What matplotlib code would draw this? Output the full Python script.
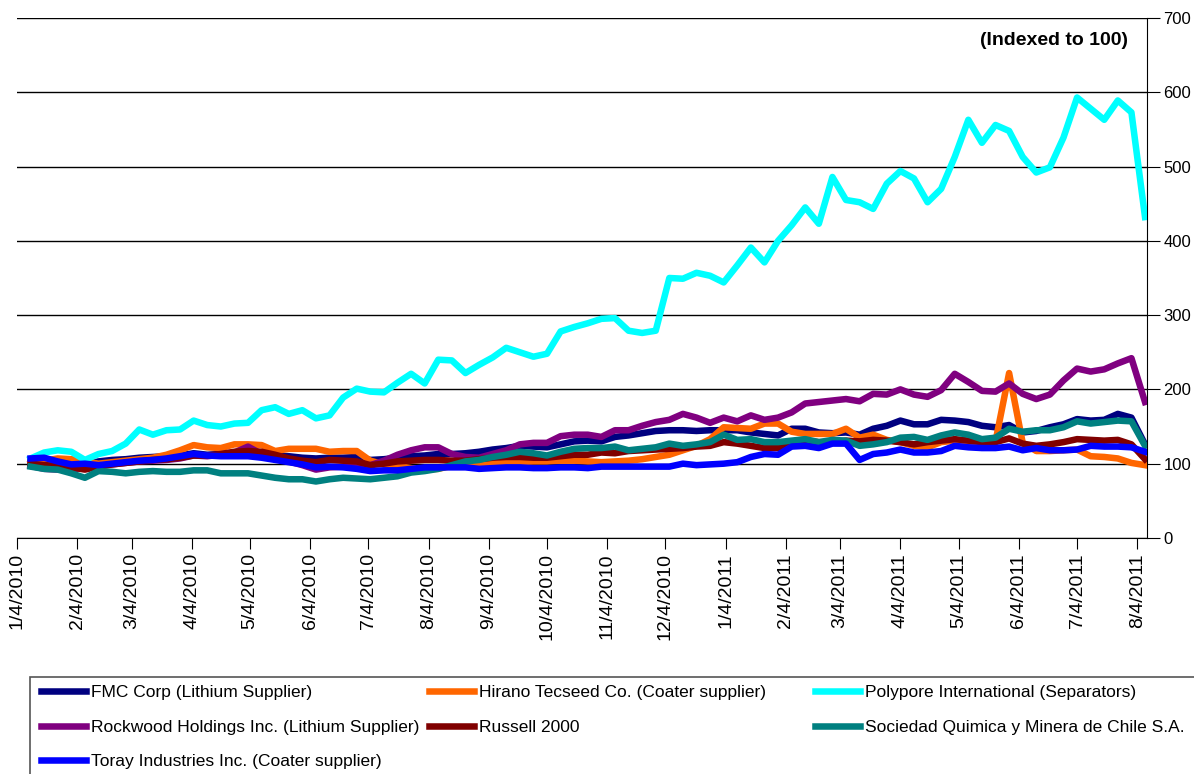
import pandas as pd
import matplotlib
matplotlib.use("Agg")
import matplotlib.pyplot as plt
from matplotlib.patches import Rectangle

# weekly closes, indexed to 100
dates = pd.date_range("2010-01-11", periods=83, freq="7D")

fmc = [102, 102, 100, 98, 99, 103, 105, 106, 108, 109,
       110, 111, 114, 112, 113, 115, 116, 113, 111, 110,
       108, 107, 108, 108, 109, 105, 106, 108, 110, 111,
       113, 113, 114, 116, 119, 121, 124, 123, 122, 126,
       130, 131, 130, 136, 138, 141, 144, 145, 145, 144,
       145, 145, 145, 142, 140, 138, 147, 147, 142, 141,
       142, 139, 147, 151, 158, 153, 153, 159, 158, 156,
       151, 149, 152, 142, 144, 149, 153, 160, 158, 159,
       167, 162, 126]
hirano = [100, 104, 107, 106, 103, 100, 102, 104, 106, 108,
          112, 118, 125, 122, 121, 126, 126, 125, 117, 120,
          120, 120, 116, 117, 117, 104, 99, 97, 94, 92,
          93, 97, 100, 101, 100, 101, 102, 103, 103, 104,
          104, 103, 102, 103, 104, 106, 109, 112, 118, 124,
          133, 149, 148, 147, 154, 154, 143, 140, 140, 140,
          147, 135, 139, 132, 129, 124, 122, 129, 131, 127,
          124, 130, 222, 128, 117, 117, 118, 119, 110, 109,
          107, 101, 98]
polypore = [107, 115, 118, 116, 105, 113, 117, 127, 146, 139,
            145, 146, 158, 152, 150, 154, 155, 172, 176, 167,
            172, 161, 165, 189, 201, 197, 196, 209, 221, 208,
            240, 239, 222, 233, 243, 256, 250, 244, 248, 278,
            284, 289, 295, 296, 279, 276, 279, 350, 349, 357,
            353, 344, 367, 391, 371, 400, 421, 445, 423, 486,
            455, 452, 443, 477, 494, 484, 452, 470, 513, 563,
            532, 556, 548, 513, 492, 499, 539, 593, 578, 563,
            589, 573, 432]
rockwood = [97, 93, 92, 92, 95, 97, 99, 101, 103, 104,
            105, 107, 111, 110, 112, 115, 123, 113, 108, 103,
            98, 92, 95, 96, 97, 98, 104, 112, 118, 122,
            122, 113, 109, 108, 113, 118, 126, 128, 128, 137,
            139, 139, 136, 145, 145, 151, 156, 159, 167, 162,
            155, 162, 157, 165, 159, 162, 169, 181, 183, 185,
            187, 184, 194, 193, 200, 193, 190, 199, 221, 210,
            198, 197, 208, 194, 187, 193, 212, 228, 224, 227,
            235, 242, 183]
russell = [100, 98, 97, 95, 92, 96, 99, 101, 103, 105,
           106, 108, 111, 111, 113, 116, 117, 116, 112, 107,
           104, 102, 105, 104, 103, 98, 100, 103, 104, 105,
           105, 104, 104, 106, 108, 109, 109, 108, 108, 110,
           112, 112, 115, 114, 117, 118, 119, 120, 121, 123,
           124, 129, 127, 124, 121, 121, 124, 131, 129, 129,
           131, 130, 132, 131, 129, 126, 129, 131, 133, 131,
           129, 129, 134, 127, 124, 126, 129, 133, 132, 131,
           132, 126, 106]
sqm = [96, 93, 92, 87, 81, 90, 89, 87, 89, 90,
       89, 89, 91, 91, 87, 87, 87, 84, 81, 79,
       79, 76, 79, 81, 80, 79, 81, 83, 88, 90,
       93, 98, 103, 105, 109, 112, 116, 114, 111, 116,
       120, 121, 121, 123, 118, 120, 122, 127, 124, 126,
       129, 139, 132, 133, 129, 129, 131, 133, 129, 132,
       131, 124, 126, 129, 135, 136, 132, 138, 142, 139,
       133, 135, 147, 143, 145, 145, 149, 157, 154, 156,
       158, 157, 124]
toray = [107, 108, 103, 99, 100, 98, 100, 102, 104, 105,
         107, 110, 113, 111, 110, 110, 110, 108, 105, 102,
         99, 95, 96, 95, 93, 90, 91, 91, 93, 95,
         95, 95, 95, 93, 94, 95, 95, 94, 94, 95,
         95, 94, 96, 96, 96, 96, 96, 96, 100, 98,
         99, 100, 102, 109, 113, 112, 123, 124, 121, 127,
         127, 105, 113, 115, 119, 115, 115, 117, 124, 122,
         121, 121, 123, 118, 121, 118, 118, 119, 124, 123,
         123, 122, 116]

names = ["FMC Corp (Lithium Supplier)", "Hirano Tecseed Co. (Coater supplier)",
         "Polypore International (Separators)", "Rockwood Holdings Inc. (Lithium Supplier)",
         "Russell 2000", "Sociedad Quimica y Minera de Chile S.A.",
         "Toray Industries Inc. (Coater supplier)"]
series = [fmc, hirano, polypore, rockwood, russell, sqm, toray]
colors = ["#000080", "#FF6600", "#00FFFF", "#800080", "#800000", "#008080", "#0000FF"]

plt.rcParams['font.family'] = ['Liberation Sans', 'DejaVu Sans']

fig = plt.figure(figsize=(11.94, 7.74), dpi=100)
ax = fig.add_axes([0.0142, 0.305, 0.9464, 0.6717])

handles = []
for k, (name, vals, c) in enumerate(zip(names, series, colors)):
    ln, = ax.plot(dates, vals, color=c, lw=4.7, label=name, zorder=3 + k)
    handles.append(ln)

ax.set_ylim(0, 700)
ax.set_xlim(pd.Timestamp("2010-01-04"), pd.Timestamp("2011-08-09"))
ax.yaxis.tick_right()
ax.set_yticks(range(0, 701, 100))
ax.grid(axis='y', color='black', lw=1)
ax.set_axisbelow(True)

for s in ['left', 'top']:
    ax.spines[s].set_visible(False)
ax.spines['right'].set_color('black')
ax.spines['bottom'].set_color('black')

months = pd.date_range("2010-01-04", "2011-08-04", freq=pd.DateOffset(months=1))
ax.set_xticks(months)
ax.set_xticklabels([f"{d.month}/{d.day}/{d.year}" for d in months], rotation=90)
ax.tick_params(axis='x', direction='out', length=8, labelsize=14, pad=3)
ax.tick_params(axis='y', direction='out', length=9, labelsize=12, pad=3)

ax.text(0.983, 0.956, "(Indexed to 100)", transform=ax.transAxes,
        ha='right', va='center', fontsize=14, fontweight='bold')

# legend box, then one legend per column so columns sit where the original has them
fig.add_artist(Rectangle((30 / 1194, -0.02), 1.0, 0.02 + 1 - 677 / 774,
                         transform=fig.transFigure, fill=False,
                         edgecolor='#555555', lw=1.2))
cols = [([0, 3, 6], 41), ([1, 4], 429), ([2, 5], 815)]
for idx, x0 in cols:
    fig.legend([handles[i] for i in idx], [names[i] for i in idx],
               loc='upper left', bbox_to_anchor=(x0 / 1194, 1 - 685 / 774),
               frameon=False, fontsize=12.5, handlelength=2.6, handletextpad=0.3,
               labelspacing=1.12, borderaxespad=0, borderpad=0)

fig.savefig("out.png", dpi=100)
